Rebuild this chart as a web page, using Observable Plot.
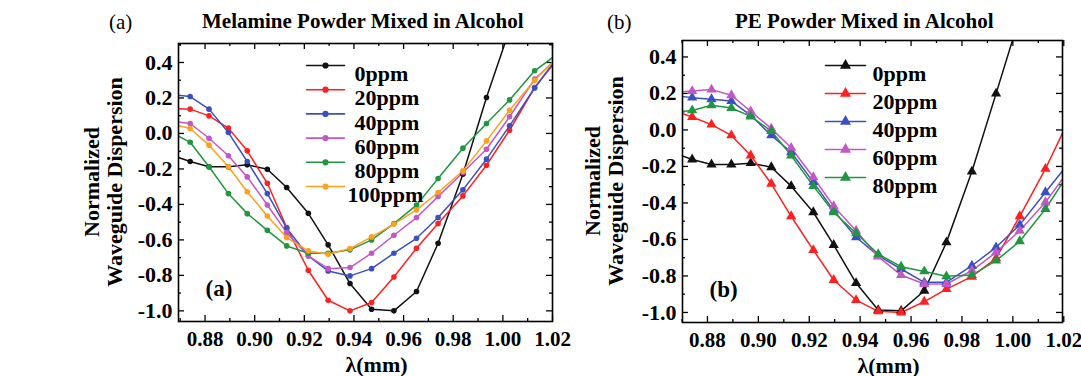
<!DOCTYPE html>
<html><head><meta charset="utf-8">
<script src="https://cdn.jsdelivr.net/npm/d3@7"></script>
<script src="https://cdn.jsdelivr.net/npm/@observablehq/plot@0.6"></script>
<style>
body{margin:0;background:#fff;}
#wrap{position:relative;width:1081px;height:376px;overflow:hidden;font-family:'Liberation Serif';}
.t{position:absolute;font-size:21px;line-height:21px;white-space:nowrap;color:#000}
.b{font-weight:bold}
.yl{position:absolute;font-size:22px;line-height:22px;font-weight:bold;white-space:nowrap;transform:translate(-50%,-50%) rotate(-90deg);}
#wrap svg{position:absolute;top:0;overflow:visible}
</style></head><body><div id="wrap">
<div class="t" style="left:109px;top:12px">(a)</div>
<div class="t b" style="left:202px;top:11px">Melamine Powder Mixed in Alcohol</div>
<div class="t" style="left:607px;top:12px">(b)</div>
<div class="t b" style="left:735px;top:11px">PE Powder Mixed in Alcohol</div>
<div class="yl" style="left:92px;top:182px">Normalized</div>
<div class="yl" style="left:115px;top:182px">Waveguide Dispersion</div>
<div class="yl" style="left:593px;top:181px">Normalized</div>
<div class="yl" style="left:616px;top:181px">Waveguide Dispersion</div>
</div>
<script>
// wavelength grid (first and last lie just outside the plotted range)
const wavelength = [0.866, 0.874, 0.8816, 0.8894, 0.8970, 0.9051, 0.9129, 0.9216, 0.9296, 0.9384, 0.9471, 0.9561, 0.9652, 0.9739, 0.9839, 0.9934, 1.0027, 1.0128, 1.0232];

// (a) Melamine powder mixed in alcohol
const melamineNames = ["0ppm", "20ppm", "40ppm", "60ppm", "80ppm", "100ppm"];
const mel0   = [-0.12, -0.158, -0.188, -0.188, -0.177, -0.202, -0.305, -0.450, -0.628, -0.846, -0.991, -1.0, -0.891, -0.619, -0.23, 0.203, 0.585, null, null];
const mel20  = [0.14, 0.137, 0.099, 0.030, -0.098, -0.281, -0.530, -0.771, -0.940, -1.0, -0.953, -0.809, -0.647, -0.508, -0.352, -0.179, 0.018, 0.259, 0.44];
const mel40  = [0.22, 0.208, 0.137, 0.005, -0.158, -0.339, -0.534, -0.690, -0.775, -0.803, -0.762, -0.675, -0.591, -0.474, -0.318, -0.145, 0.043, 0.256, 0.45];
const mel60  = [0.07, 0.056, -0.027, -0.126, -0.245, -0.403, -0.559, -0.690, -0.762, -0.756, -0.675, -0.574, -0.474, -0.356, -0.220, -0.089, 0.094, 0.306, 0.44];
const mel80  = [0.01, -0.05, -0.188, -0.339, -0.452, -0.546, -0.634, -0.675, -0.675, -0.656, -0.600, -0.508, -0.404, -0.254, -0.083, 0.056, 0.189, 0.353, 0.46];
const mel100 = [0.055, 0.028, -0.066, -0.188, -0.329, -0.465, -0.587, -0.662, -0.681, -0.649, -0.583, -0.511, -0.431, -0.333, -0.211, -0.042, 0.131, 0.300, 0.445];

// (b) PE powder mixed in alcohol
const peNames = ["0ppm", "20ppm", "40ppm", "60ppm", "80ppm"];
const pe0  = [-0.12, -0.162, -0.189, -0.189, -0.182, -0.204, -0.308, -0.451, -0.630, -0.839, -0.987, -0.991, -0.881, -0.616, -0.228, 0.199, 0.62, null, null];
const pe20 = [0.11, 0.071, 0.029, -0.030, -0.140, -0.295, -0.473, -0.658, -0.822, -0.932, -0.994, -1.0, -0.941, -0.872, -0.804, -0.703, -0.473, -0.213, 0.09];
const pe40 = [0.19, 0.177, 0.168, 0.158, 0.080, -0.030, -0.122, -0.286, -0.442, -0.588, -0.689, -0.762, -0.835, -0.835, -0.744, -0.643, -0.520, -0.341, -0.16];
const pe60 = [0.205, 0.213, 0.221, 0.190, 0.102, 0.007, -0.098, -0.259, -0.418, -0.552, -0.694, -0.795, -0.844, -0.844, -0.771, -0.671, -0.552, -0.396, -0.20];
const pe80 = [0.095, 0.107, 0.135, 0.120, 0.074, -0.006, -0.140, -0.308, -0.451, -0.566, -0.680, -0.749, -0.775, -0.802, -0.795, -0.716, -0.610, -0.433, -0.21];

const seriesColors = {"0ppm": "#111111", "20ppm": "#ff1f1f", "40ppm": "#3a50c2", "60ppm": "#c357c6", "80ppm": "#1f9640", "100ppm": "#ffa01c"};

const xMajorTicks = [0.88, 0.90, 0.92, 0.94, 0.96, 0.98, 1.00, 1.02];
const xMinorTicks = [0.87, 0.89, 0.91, 0.93, 0.95, 0.97, 0.99, 1.01];
const yMajorTicks = [-1.0, -0.8, -0.6, -0.4, -0.2, 0.0, 0.2, 0.4];
const yMinorTicks = [-0.9, -0.7, -0.5, -0.3, -0.1, 0.1, 0.3, 0.5];

function toRows(names, arrays) {
  const rows = [];
  names.forEach((n, k) => arrays[k].forEach((v, i) => { if (v != null) rows.push({series: n, x: wavelength[i], y: v}); }));
  return rows;
}

const lineShape = {draw(context, l) { context.moveTo(0, 0); context.lineTo(0, -l); }};
const FONT = "Liberation Serif";

function panel(p) {
  const H = 376 - p.mt - p.mb, W = p.width - p.ml - p.mr;
  const inY = v => v >= p.yDomain[0] && v <= p.yDomain[1];
  const yMaj = yMajorTicks.filter(inY), yMin = yMinorTicks.filter(inY);
  const tk = {stroke: "#000", strokeWidth: 1.3};
  const txt = {fontFamily: FONT, fontWeight: "bold"};
  const marks = [
    Plot.ruleX(xMajorTicks, {...tk, insetTop: H - 6}),
    Plot.ruleX(xMajorTicks, {...tk, insetBottom: H - 6}),
    Plot.ruleX(xMinorTicks, {...tk, insetTop: H - 3}),
    Plot.ruleX(xMinorTicks, {...tk, insetBottom: H - 3}),
    Plot.ruleY(yMaj, {...tk, insetRight: W - 6}),
    Plot.ruleY(yMaj, {...tk, insetLeft: W - 6}),
    Plot.ruleY(yMin, {...tk, insetRight: W - 3}),
    Plot.ruleY(yMin, {...tk, insetLeft: W - 3}),
    Plot.axisX(xMajorTicks, {...txt, tickSize: 0, tickPadding: 10, tickFormat: d => d.toFixed(2), fontSize: 21, label: null}),
    Plot.axisY(yMaj, {...txt, tickSize: 0, tickPadding: 6, tickFormat: d => d.toFixed(1), fontSize: 22, label: null}),
    Plot.line(p.rows, {x: "x", y: "y", z: "series", stroke: "series", strokeWidth: 1.5, clip: true}),
    Plot.dot(p.rows, {x: "x", y: "y", fill: "series", symbol: p.symbol, r: p.r, clip: true}),
    Plot.frame({stroke: "#000", strokeWidth: 1.6}),
    Plot.text([p.inset], {...txt, text: d => d, frameAnchor: "bottom-left", dx: 27, dy: -26, fontSize: 23}),
    Plot.text(["λ(mm)"], {...txt, text: d => d, frameAnchor: "bottom", dx: p.xlabelDx, dy: 50, fontSize: 22})
  ];
  p.names.forEach((n, i) => {
    const dy = p.lg.y0 + i * p.lg.dy;
    marks.push(Plot.vector([n], {frameAnchor: "top-left", dx: p.lg.x0, dy, length: p.lg.len, rotate: 90, anchor: "start", shape: lineShape, stroke: seriesColors[n], strokeWidth: 1.6}));
    marks.push(Plot.dot([n], {frameAnchor: "top-left", dx: p.lg.x0 + p.lg.len / 2, dy, fill: seriesColors[n], symbol: p.symbol, r: p.r + 0.3}));
    marks.push(Plot.text([n], {...txt, text: d => d, frameAnchor: "top-left", dx: p.lg.tx[i], dy, textAnchor: "start", fontSize: 22, fill: "#000"}));
  });
  const svg = Plot.plot({
    width: p.width, height: 376,
    marginLeft: p.ml, marginRight: p.mr, marginTop: p.mt, marginBottom: p.mb,
    x: {domain: p.xDomain}, y: {domain: p.yDomain},
    color: {domain: p.names, range: p.names.map(n => seriesColors[n])},
    style: {fontFamily: FONT, background: "transparent", color: "#000", overflow: "visible"},
    marks
  });
  svg.style.left = p.left + "px";
  return svg;
}

const wrap = document.getElementById("wrap");
wrap.appendChild(panel({
  left: 0, width: 560, ml: 178, mr: 8, mt: 43, mb: 55,
  xDomain: [0.8693, 1.02], yDomain: [-1.06, 0.507],
  rows: toRows(melamineNames, [mel0, mel20, mel40, mel60, mel80, mel100]),
  names: melamineNames, symbol: "circle", r: 2.8, inset: "(a)",
  xlabelDx: 11,
  lg: {x0: 128, len: 38, y0: 22, dy: 24.2, tx: [176, 176, 176, 176, 176, 169]}
}));
wrap.appendChild(panel({
  left: 560, width: 521, ml: 122, mr: 19, mt: 40, mb: 54,
  xDomain: [0.8702, 1.0195], yDomain: [-1.055, 0.49],
  rows: toRows(peNames, [pe0, pe20, pe40, pe60, pe80]),
  names: peNames, symbol: "triangle", r: 3.8, inset: "(b)",
  xlabelDx: 16,
  lg: {x0: 143, len: 40, y0: 25, dy: 28, tx: [190, 190, 190, 190, 190]}
}));
</script>
</body></html>
